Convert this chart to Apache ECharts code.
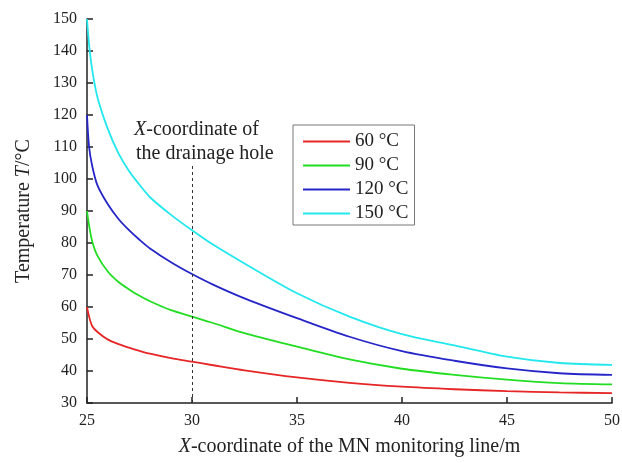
<!DOCTYPE html>
<html>
<head>
<meta charset="utf-8">
<script src="https://cdn.jsdelivr.net/npm/echarts@6/dist/echarts.min.js"></script>
<style>html,body{margin:0;padding:0;background:#fff;}#c{width:622px;height:463px;}</style>
</head>
<body>
<div id="c"></div>
<script>
const xs = [25, 25.1, 25.25, 25.5, 26, 26.5, 27, 27.5, 28, 29, 30, 31, 32.5, 35, 37.5, 40, 42.5, 45, 47.5, 50];
const t60  = [60, 57, 54, 52.2, 49.8, 48.4, 47.3, 46.3, 45.4, 44, 42.9, 41.8, 40.2, 38, 36.3, 35.1, 34.3, 33.7, 33.3, 33.1];
const t90  = [90, 85.5, 80.5, 76, 71, 67.8, 65.5, 63.5, 61.8, 59, 57, 55, 51.8, 47.6, 43.6, 40.7, 38.8, 37.3, 36.2, 35.8];
const t120 = [120, 110, 104, 98, 92, 87.5, 84, 81, 78.3, 74, 70.3, 67, 62.7, 56.5, 50.7, 46.2, 43.2, 40.8, 39.3, 38.8];
const t150 = [150, 142, 134, 125.5, 115.5, 108, 102.5, 98.2, 94.3, 88.8, 84, 79.5, 73.6, 64.3, 57, 51.5, 48, 44.5, 42.5, 41.9];
const seriesNames = ['60 \u00B0C', '90 \u00B0C', '120 \u00B0C', '150 \u00B0C'];
const seriesColors = ['#e62626', '#22dd22', '#2626c8', '#22e8ee'];
const xTicks = {min: 25, max: 50, interval: 5};
const yTicks = {min: 30, max: 150, interval: 10};
const drainX = 30;
const drainTop = 105;

const font = 'Liberation Serif, Times New Roman, serif';
const chart = echarts.init(document.getElementById('c'));
const allData = [t60, t90, t120, t150];
const series = allData.map((d, i) => ({
  name: seriesNames[i],
  type: 'line',
  data: xs.map((x, j) => [x, d[j]]),
  smooth: 0.3,
  symbol: 'none',
  lineStyle: {color: seriesColors[i], width: 1.8},
  itemStyle: {color: seriesColors[i]},
  z: 3
}));
series.push({
  type: 'line',
  data: [],
  markLine: {
    silent: true,
    symbol: 'none',
    label: {show: false},
    lineStyle: {color: '#333', type: [3, 3], width: 1},
    data: [[{coord: [drainX, yTicks.min]}, {coord: [drainX, drainTop]}]]
  }
});
chart.setOption({
  animation: false,
  backgroundColor: '#fff',
  grid: {left: 87, right: 10, top: 19, bottom: 60, containLabel: false, outerBoundsMode: 'none'},
  xAxis: {
    type: 'value', min: xTicks.min, max: xTicks.max, interval: xTicks.interval,
    axisLine: {lineStyle: {color: '#222', width: 1.5}},
    axisTick: {inside: true, length: 6, lineStyle: {color: '#222', width: 1.5}},
    axisLabel: {color: '#222', fontFamily: font, fontSize: 16, margin: 10},
    splitLine: {show: false},
    name: '{i|X}-coordinate of the MN monitoring line/m',
    nameLocation: 'middle', nameGap: 34,
    nameTextStyle: {color: '#222', fontFamily: font, fontSize: 20,
      rich: {i: {fontStyle: 'italic', fontFamily: font, fontSize: 20, color: '#222'}}}
  },
  yAxis: {
    type: 'value', min: yTicks.min, max: yTicks.max, interval: yTicks.interval,
    axisLine: {show: true, lineStyle: {color: '#222', width: 1.5}},
    axisTick: {show: true, inside: true, length: 6, lineStyle: {color: '#222', width: 1.5}},
    axisLabel: {color: '#222', fontFamily: font, fontSize: 16, margin: 10},
    splitLine: {show: false},
    name: 'Temperature {i|T}/\u00B0C',
    nameLocation: 'middle', nameGap: 53,
    nameTextStyle: {color: '#222', fontFamily: font, fontSize: 20,
      rich: {i: {fontStyle: 'italic', fontFamily: font, fontSize: 20, color: '#222'}}}
  },
  legend: {
    orient: 'vertical', left: 293, top: 125,
    data: seriesNames,
    itemWidth: 47, itemHeight: 20, itemGap: 5,
    padding: [7, 6, 2, 10],
    borderColor: '#777', borderWidth: 1,
    textStyle: {color: '#222', fontFamily: font, fontSize: 19, padding: [0, 0, 0, 0]},
    icon: 'path://M0,9.1L47,9.1L47,10.9L0,10.9Z'
  },
  graphic: [
    {type: 'text', left: 134, top: 120, style: {text: '{i|X}-coordinate of', fill: '#222', font: '20px ' + font,
      rich: {i: {fontStyle: 'italic', fontSize: 20, fontFamily: font, fill: '#222'}}}},
    {type: 'text', left: 136, top: 144, style: {text: 'the drainage hole', fill: '#222', font: '20px ' + font}}
  ],
  series: series
});
</script>
</body>
</html>
